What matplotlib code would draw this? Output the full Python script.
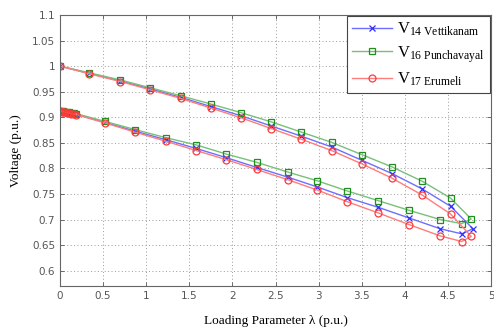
import matplotlib
matplotlib.use('Agg')
import matplotlib.pyplot as plt

plt.rcParams['mathtext.fontset'] = 'custom'
plt.rcParams['mathtext.rm'] = 'Liberation Serif'
plt.rcParams['mathtext.it'] = 'Liberation Serif:italic'

# upper branch (lambda from 0 up to the nose)
lam_up = [0, 0.34, 0.70, 1.04, 1.40, 1.75, 2.10, 2.45, 2.80, 3.15, 3.50, 3.85, 4.20, 4.53]
v14_up = [1.0, 0.986, 0.971, 0.956, 0.939, 0.921, 0.903, 0.883, 0.863, 0.842, 0.816, 0.790, 0.760, 0.726]
v16_up = [1.0, 0.987, 0.973, 0.958, 0.942, 0.926, 0.909, 0.891, 0.871, 0.851, 0.827, 0.803, 0.775, 0.742]
v17_up = [1.0, 0.985, 0.970, 0.954, 0.937, 0.918, 0.899, 0.878, 0.857, 0.835, 0.809, 0.781, 0.748, 0.711]

# nose points
lam_nose = [4.79, 4.77, 4.77]
v_nose = [0.682, 0.701, 0.667]

# lower branch (back from the nose to lambda = 0)
lam_lo = [4.66, 4.41, 4.05, 3.69, 3.33, 2.98, 2.64, 2.28, 1.93, 1.58, 1.23, 0.87, 0.52,
          0.19, 0.16, 0.13, 0.10, 0.08, 0.06, 0.04, 0.02, 0]
v14_lo = [0.672, 0.682, 0.703, 0.724, 0.743, 0.764, 0.783, 0.802, 0.821, 0.839, 0.856, 0.873, 0.890,
          0.906, 0.907, 0.908, 0.909, 0.910, 0.911, 0.911, 0.912, 0.912]
v16_lo = [0.692, 0.700, 0.718, 0.737, 0.756, 0.776, 0.793, 0.812, 0.828, 0.846, 0.860, 0.876, 0.892,
          0.907, 0.908, 0.909, 0.910, 0.911, 0.911, 0.912, 0.912, 0.913]
v17_lo = [0.657, 0.668, 0.690, 0.713, 0.735, 0.758, 0.778, 0.798, 0.817, 0.835, 0.853, 0.871, 0.889,
          0.905, 0.906, 0.907, 0.908, 0.909, 0.910, 0.911, 0.911, 0.912]

labels = [r'V$_{\mathrm{14\ Vettikanam}}$', r'V$_{\mathrm{16\ Punchavayal}}$', r'V$_{\mathrm{17\ Erumeli}}$']
line_cols = ['#6e6eff', '#78c078', '#ff7c7c']
mark_cols = ['#2f2fff', '#1f8f1f', '#ff3a3a']
markers = ['x', 's', 'o']

fig = plt.figure(figsize=(4.94, 3.27), dpi=100)
ax = fig.add_axes([0.1215, 0.1254, 0.8725, 0.8286])

ups = [v14_up, v16_up, v17_up]
los = [v14_lo, v16_lo, v17_lo]
for i in range(3):
    x = lam_up + [lam_nose[i]] + lam_lo
    y = ups[i] + [v_nose[i]] + los[i]
    ax.plot(x, y, color=line_cols[i], lw=1.0, marker=markers[i], ms=5 if i else 4,
            mfc='none', mec=mark_cols[i], mew=0.9, label=labels[i])

ax.set_xlim(0, 5)
ax.set_ylim(0.57, 1.1)
ax.set_xticks([0, 0.5, 1, 1.5, 2, 2.5, 3, 3.5, 4, 4.5, 5])
ax.set_xticklabels(['0', '0.5', '1', '1.5', '2', '2.5', '3', '3.5', '4', '4.5', '5'])
yt = [0.6, 0.65, 0.7, 0.75, 0.8, 0.85, 0.9, 0.95, 1.0, 1.05, 1.1]
ax.set_yticks(yt)
ax.set_yticklabels(['0.6', '0.65', '0.7', '0.75', '0.8', '0.85', '0.9', '0.95', '1', '1.05', '1.1'])
ax.grid(True, ls=(0, (1, 2.5)), color='#9a9a9a', lw=0.7)
ax.tick_params(direction='in', length=3, labelsize=7.5, labelcolor='#555555', color='#555555',
               top=True, right=True, width=0.6)
for s in ax.spines.values():
    s.set_color('#666666')
    s.set_linewidth(0.8)

ax.set_xlabel(u'Loading Parameter \u03bb (p.u.)', fontfamily='Liberation Serif', fontsize=9.5, labelpad=10)
ax.set_ylabel('Voltage (p.u.)', fontfamily='Liberation Serif', fontsize=9.5, labelpad=7)

leg = ax.legend(loc='upper right', prop={'family': 'Liberation Serif', 'size': 12}, frameon=True,
                fancybox=False, borderaxespad=0.05, handlelength=2.4, labelspacing=0.35,
                borderpad=0.3, handletextpad=0.3)
leg.get_frame().set_edgecolor('#444444')
leg.get_frame().set_linewidth(0.8)
leg.get_frame().set_alpha(1)

fig.savefig('out.png', dpi=100)
